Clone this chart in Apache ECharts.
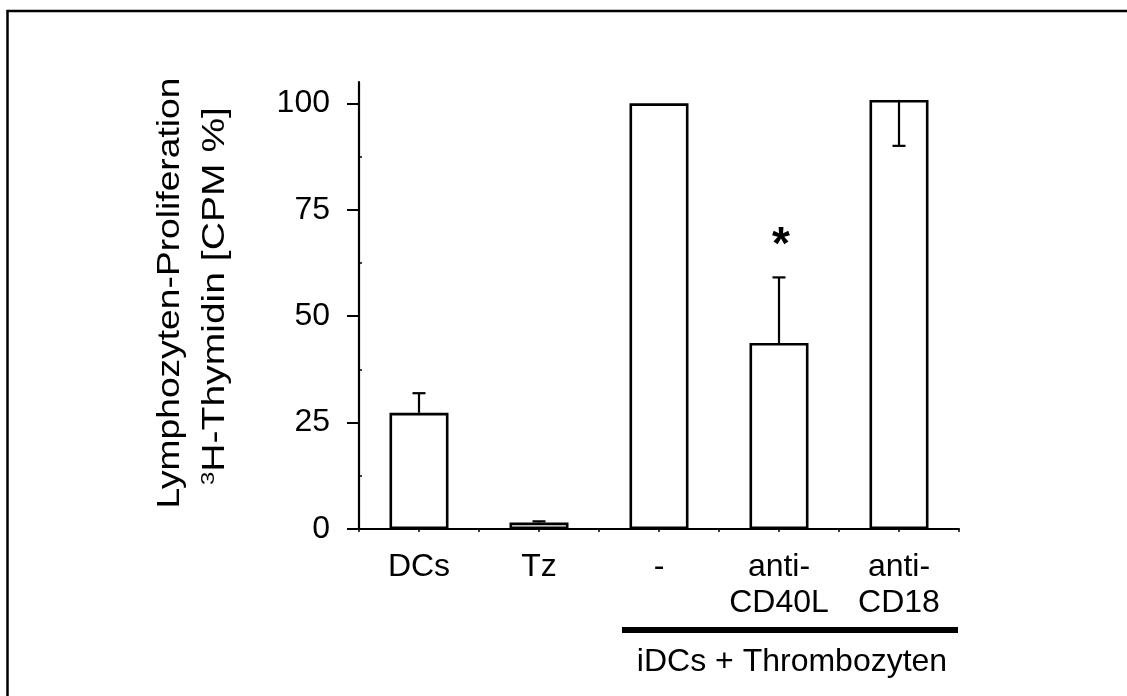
<!DOCTYPE html>
<html>
<head>
<meta charset="utf-8">
<title>Lymphozyten-Proliferation</title>
<script src="https://cdn.jsdelivr.net/npm/echarts@6/dist/echarts.min.js"></script>
<style>
  html, body { margin: 0; padding: 0; background: #fff; }
  #chart { width: 1127px; height: 696px; }
</style>
</head>
<body>
<div id="chart"></div>
<script>
// Werte
const categories = ['DCs', 'Tz', '-', 'anti-\nCD40L', 'anti-\nCD18']
const meanValues = [27.3, 1.5, 100, 43.7, 100.8]
const errorEnds = [31.9, 1.8, null, 59.1, 90.0]
const marks = ['', '', '', '*', '']
const yTicks = [0, 25, 50, 75, 100]
const yMinorTicks = [12.5, 37.5, 62.5, 87.5]
const groupLabel = 'iDCs + Thrombozyten'
const titleLine1 = 'Lymphozyten-Proliferation'
const titleLine2 = '{sup|3}H-Thymidin [CPM %]'

const fontFamily = '"Liberation Sans", Arial, sans-serif'
const chart = echarts.init(document.getElementById('chart'))

const errorData = categories.map((c, i) => [i, meanValues[i], errorEnds[i] == null ? NaN : errorEnds[i]])

function renderError(params, api) {
  const idx = params.dataIndex
  const mean = api.value(1)
  const end = api.value(2)
  const children = []
  const base = api.coord([api.value(0), mean])
  if (end != null && !isNaN(end)) {
    const tip = api.coord([api.value(0), end])
    children.push({
      type: 'line',
      shape: { x1: base[0], y1: base[1], x2: tip[0], y2: tip[1] },
      style: { stroke: '#000', lineWidth: 2.2 }
    })
    children.push({
      type: 'line',
      shape: { x1: tip[0] - 6.5, y1: tip[1], x2: tip[0] + 6.5, y2: tip[1] },
      style: { stroke: '#000', lineWidth: 2.2 }
    })
  }
  if (marks[idx]) {
    const topVal = isNaN(end) ? mean : Math.max(mean, end)
    const top = api.coord([api.value(0), topVal])
    children.push({
      type: 'text',
      style: {
        text: marks[idx], x: top[0] + 2, y: top[1] - 31,
        fontSize: 46, fontWeight: 'bold', fontFamily: fontFamily,
        align: 'center', verticalAlign: 'middle', fill: '#000'
      }
    })
  }
  return { type: 'group', children: children }
}

const option = {
  animation: false,
  backgroundColor: '#fff',
  grid: { left: 359, right: 168, top: 82, bottom: 167 },
  xAxis: [
    {
      type: 'category',
      data: categories,
      axisLine: { lineStyle: { color: '#000', width: 2 } },
      axisTick: { show: false },
      axisLabel: {
        color: '#000', fontSize: 32, fontFamily: fontFamily,
        lineHeight: 36, margin: 20, interval: 0
      }
    },
    {
      // nur die kleinen Striche unter der x-Achse
      type: 'value', min: 0, max: 5, interval: 0.5,
      position: 'bottom',
      axisLine: { show: false },
      axisTick: { show: true, length: 3, lineStyle: { color: '#000', width: 1.5 } },
      axisLabel: { show: false },
      splitLine: { show: false }
    }
  ],
  yAxis: [
    {
      type: 'value', min: 0, max: 105, interval: 25,
      axisLine: { show: true, lineStyle: { color: '#000', width: 2.2 } },
      axisTick: { show: true, length: 12, customValues: yTicks, lineStyle: { color: '#000', width: 2 } },
      axisLabel: { color: '#000', fontSize: 32, fontFamily: fontFamily, margin: 29, customValues: yTicks },
      splitLine: { show: false }
    },
    {
      type: 'value', min: 0, max: 105,
      position: 'left',
      axisLine: { show: false },
      axisTick: { show: true, inside: true, length: 3, customValues: yMinorTicks, lineStyle: { color: '#000', width: 1.5 } },
      axisLabel: { show: false },
      splitLine: { show: false }
    }
  ],
  series: [
    {
      type: 'bar',
      data: meanValues,
      barWidth: 59,
      itemStyle: { color: '#fff', borderColor: '#000', borderWidth: 2.6 }
    },
    {
      type: 'custom',
      data: errorData,
      encode: { x: 0, y: [1, 2] },
      renderItem: renderError,
      z: 3
    }
  ],
  graphic: [
    {
      type: 'rect', silent: true,
      shape: { x: 7.5, y: 11, width: 1400, height: 1000 },
      style: { fill: null, stroke: '#000', lineWidth: 2.5 }
    },
    {
      type: 'text', x: 170, y: 293, rotation: Math.PI / 2, scaleX: 1.2,
      style: {
        text: titleLine1, fontSize: 31, fontFamily: fontFamily,
        align: 'center', verticalAlign: 'middle', fill: '#000'
      }
    },
    {
      type: 'text', x: 215, y: 296, rotation: Math.PI / 2, scaleX: 1.26,
      style: {
        text: titleLine2, fontSize: 31, fontFamily: fontFamily,
        align: 'center', verticalAlign: 'middle', fill: '#000',
        rich: { sup: { fontSize: 19, fontFamily: fontFamily, verticalAlign: 'top', fill: '#000' } }
      }
    },
    {
      type: 'line', silent: true,
      shape: { x1: 622, y1: 630, x2: 958, y2: 630 },
      style: { stroke: '#000', lineWidth: 6 }
    },
    {
      type: 'text', x: 792, y: 662,
      style: {
        text: groupLabel, fontSize: 32, fontFamily: fontFamily,
        align: 'center', verticalAlign: 'middle', fill: '#000'
      }
    }
  ]
}

chart.setOption(option)
</script>
</body>
</html>
